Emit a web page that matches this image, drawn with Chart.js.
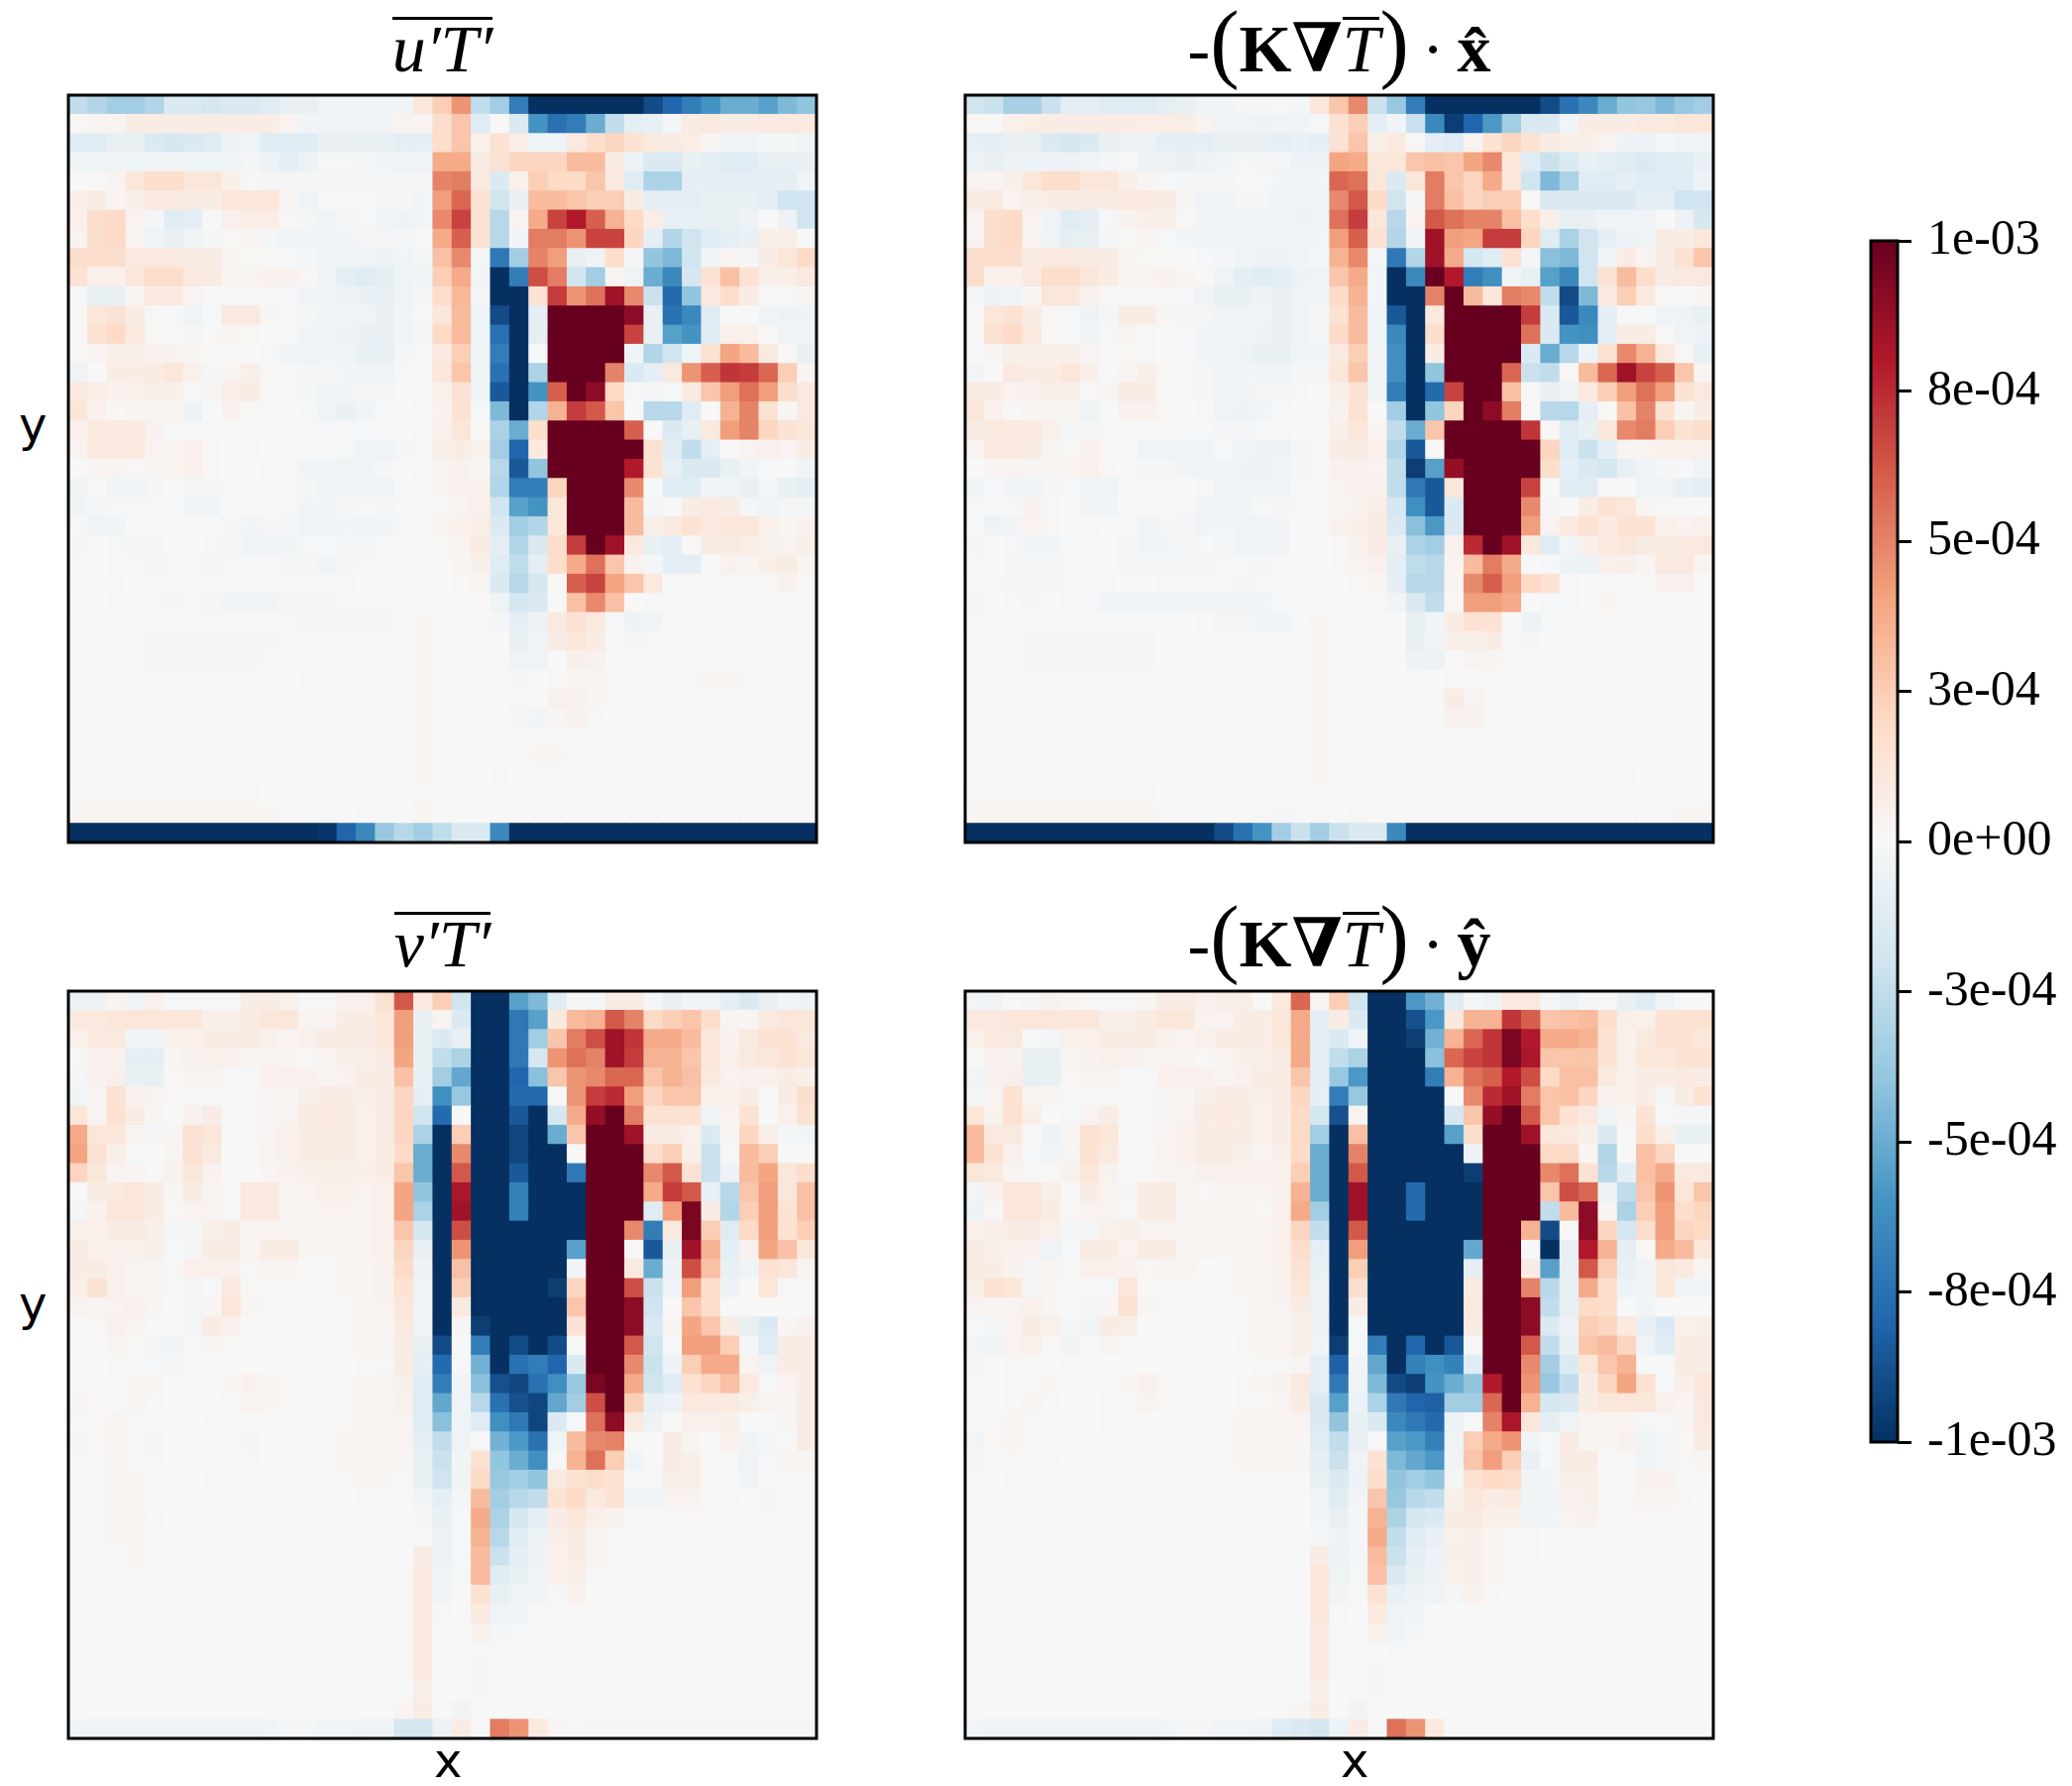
<!DOCTYPE html>
<html>
<head>
<meta charset="utf-8">
<title>Eddy heat flux</title>
<script src="https://cdn.jsdelivr.net/npm/chart.js@4"></script>
<style>
    body { margin: 0; background: #fff; }
    #page { position: relative; width: 2091px; height: 1802px; overflow: hidden; }
    canvas { position: absolute; }
    .title { position: absolute; width: 755px; height: 80px; text-align: center; font: 68px/80px "Liberation Serif", "DejaVu Serif", serif; color: #000; white-space: nowrap; word-spacing: -4px; }
    .title i { font-style: italic; }
    .title .paren { font-size: 88px; font-weight: normal; line-height: 60px; }
    .ov { display: inline-block; border-top: 3px solid #000; line-height: 46px; padding-top: 6px; }
    .axis { position: absolute; font: 48px/50px "DejaVu Sans", sans-serif; color: #000; }
</style>
</head>
<body>
<div id="page">
    <canvas id="panelUT" width="763" height="762" style="left:65px;top:92px"></canvas>
    <canvas id="panelQX" width="763" height="762" style="left:970px;top:92px"></canvas>
    <canvas id="panelVT" width="763" height="762" style="left:65px;top:996px"></canvas>
    <canvas id="panelQY" width="763" height="762" style="left:970px;top:996px"></canvas>
    <canvas id="colorbar" width="221" height="1304" style="left:1870px;top:197px"></canvas>

    <div class="title" style="left:69px;top:9px"><span class="ov"><i>u&prime;T&prime;</i></span></div>
    <div class="title" style="left:974px;top:9px">-<span class="paren">(</span><b>K&nabla;</b><span class="ov"><i>T</i></span><span class="paren">)</span> &middot; <b>x&#770;</b></div>
    <div class="title" style="left:69px;top:912px"><span class="ov"><i>v&prime;T&prime;</i></span></div>
    <div class="title" style="left:974px;top:912px">-<span class="paren">(</span><b>K&nabla;</b><span class="ov"><i>T</i></span><span class="paren">)</span> &middot; <b>y&#770;</b></div>

    <div class="axis" style="left:19px;top:403px">y</div>
    <div class="axis" style="left:19px;top:1290px">y</div>
    <div class="axis" style="left:438px;top:1751px">x</div>
    <div class="axis" style="left:1353px;top:1751px">x</div>
</div>

<script>
// Cell values in units of 1e-5, top row first
const uT = [
    [-25,-30,-35,-35,-30,-15,-15,-18,-15,-15,-12,-8,-8,-5,-5,-3,-3,-3,12,25,45,-25,-35,-70,-100,-100,-100,-100,-100,-100,-90,-80,-70,-60,-50,-50,-55,-45,-40],
    [1,3,3,8,8,8,8,8,8,8,8,3,-3,-5,-5,-3,-3,3,3,18,28,-12,0,-15,-60,-75,-70,-50,-25,-10,-8,-2,8,10,8,8,10,10,10],
    [-12,-12,-8,-8,-15,-18,-15,-12,-6,-5,-12,-12,-12,-8,-8,-8,-8,-10,-10,18,28,5,15,7,-5,-5,10,18,22,15,10,8,7,2,-5,-5,-2,-2,-5],
    [-5,-5,-5,-5,-5,-5,-5,-5,-5,-2,-6,-10,-6,-1,-1,-2,-3,-5,-5,38,38,8,15,22,22,22,32,32,8,-6,-15,-15,-8,-10,-12,-12,-8,-8,-8],
    [0,0,3,12,18,18,12,12,6,1,-2,-2,-2,-2,-2,-2,-2,-2,-2,50,52,10,-15,5,25,20,20,28,10,-12,-32,-32,-10,-10,-10,-10,-10,-10,-5],
    [6,8,3,6,10,10,8,8,12,12,12,3,-4,-1,-1,-1,-2,-2,-3,42,58,15,-20,-8,32,32,28,25,25,8,-10,-10,-10,-8,-8,-8,-10,-20,-20],
    [5,18,20,3,-2,-12,-10,0,5,7,7,1,-2,-5,-2,-1,-3,-6,-3,48,68,15,-28,3,38,68,80,60,35,20,7,-8,-8,-8,-8,-6,0,-6,-20],
    [3,18,20,3,-4,-8,-5,-2,1,3,-2,-4,-3,-3,-3,-2,-2,-2,-1,38,60,15,-28,-3,52,52,45,68,68,22,-10,-30,-20,-12,-10,-7,6,6,0],
    [18,18,18,10,10,10,8,8,3,1,1,-1,-2,-3,-5,-5,-6,-3,-2,30,48,-2,-72,-35,50,42,-8,-5,18,-2,-40,-45,-20,-3,3,-2,8,12,20],
    [15,5,5,12,18,18,10,8,2,2,4,4,1,-4,-10,-12,-10,-5,-3,25,38,-3,-100,-70,65,52,-20,-35,3,-5,-50,-65,-18,15,30,15,6,6,10],
    [-1,-8,-8,2,10,10,3,0,1,1,1,-1,-3,-5,-6,-7,-8,-4,-2,18,33,-2,-100,-100,15,70,45,55,85,48,-22,-78,-40,10,18,8,1,1,2],
    [1,12,15,8,1,-1,-4,-1,10,10,2,-1,-2,-3,-4,-5,-8,-3,-1,12,32,-5,-90,-100,-10,100,100,100,100,90,-8,-75,-65,-12,0,0,-4,-6,-6],
    [1,15,20,10,1,-1,-2,1,3,1,0,-1,-3,-4,-6,-7,-8,-3,-2,20,32,-5,-75,-100,-10,100,100,100,100,68,-8,-55,-60,-12,5,5,1,-4,-4],
    [1,3,6,6,5,4,2,0,0,0,-1,-3,-4,-3,-5,-8,-8,-2,-1,10,25,-5,-70,-100,-1,100,100,100,100,-5,-30,-20,-5,15,40,32,10,1,-8],
    [-4,0,8,8,8,12,5,-2,2,6,1,-1,-2,-2,-3,-4,-4,-1,-1,12,28,-5,-75,-100,-32,100,100,100,50,-15,-10,10,45,60,72,70,58,25,2],
    [10,7,4,5,6,6,0,2,7,8,1,0,-2,-5,-3,-2,-2,-1,1,5,15,-5,-85,-100,-60,60,100,90,20,-1,-2,-1,10,28,42,55,42,18,10],
    [13,5,1,2,2,2,-6,0,4,1,-1,0,-1,-5,-7,-3,-1,0,1,4,15,-1,-45,-100,-30,35,70,62,28,0,-28,-28,-12,0,35,50,15,2,10],
    [5,10,10,10,4,-1,-1,1,1,0,0,-1,-1,-1,-1,-1,-1,0,1,5,12,1,-32,-50,18,100,100,100,100,60,0,-15,-8,10,42,50,22,15,12],
    [3,10,10,10,3,3,5,1,0,-1,0,-1,0,0,-1,-4,-5,-2,1,6,8,4,-35,-80,10,100,100,100,100,100,15,-12,-25,-10,0,3,5,3,8],
    [0,3,3,1,2,3,5,1,0,0,-1,-1,-3,-3,-4,-4,-2,0,1,3,5,2,-28,-85,-40,100,100,100,100,80,15,-8,-15,-15,-8,-3,-1,0,-4],
    [-5,0,-3,-3,-2,0,-2,-2,0,1,1,0,-2,-5,-4,-5,-5,-1,1,3,4,5,-30,-70,-70,22,100,100,100,48,0,-12,-12,-3,-5,-8,-2,-8,-10],
    [-3,-2,-1,-1,-1,-1,-3,-3,0,0,0,-1,-3,-3,-2,-1,-2,-1,1,1,3,5,-20,-55,-60,12,100,100,100,32,-2,0,8,10,8,-2,-4,-2,-2],
    [-1,-5,-3,0,0,0,-1,0,-2,-3,-2,-2,-3,-4,-3,-4,-3,-1,1,3,5,7,-15,-35,-30,12,100,100,100,32,6,10,15,10,12,12,5,2,4],
    [2,0,-1,-2,-2,0,0,-1,-2,-4,-5,-3,-1,-1,-2,-2,-1,0,0,1,3,8,-10,-30,-15,18,70,100,85,10,-8,-10,0,8,8,7,4,3,6],
    [1,0,-1,-1,-2,-1,-1,-2,-1,-1,-1,-2,-2,-3,-2,-1,-1,0,0,0,2,6,-12,-25,-10,18,38,55,28,4,-2,-10,-10,0,4,2,6,8,2],
    [0,-1,-1,0,-1,-1,-1,-1,-1,0,0,0,0,-1,-1,0,0,0,0,0,1,2,-15,-28,-18,1,60,68,40,28,10,0,1,1,1,1,1,4,1],
    [1,0,-1,-1,-1,-2,-1,-2,-3,-3,-3,-2,-2,-2,-1,-1,-1,0,0,0,0,1,-5,-18,-15,0,30,48,30,0,-1,0,0,0,0,0,0,0,0],
    [0,0,0,0,0,0,-1,-1,-1,-1,-1,-1,-2,-2,-2,-2,-2,0,2,0,0,0,-2,-10,-6,10,15,10,-1,-6,-3,0,0,0,0,0,0,0,0],
    [0,0,0,0,-2,-2,-2,-2,-2,-2,-2,-1,-1,-1,-1,-1,-1,0,2,0,0,0,0,-8,-4,8,12,8,-1,-2,-1,0,0,0,0,0,0,0,0],
    [0,0,0,0,-2,-2,-2,-2,-2,-2,-1,-1,-1,-1,-1,-1,0,0,2,0,0,0,0,-5,-5,0,6,4,0,-1,0,0,0,0,0,0,0,0,0],
    [0,0,0,0,0,0,0,0,0,0,0,0,-1,-1,-1,-1,-1,0,2,0,0,0,0,-2,0,1,2,2,0,1,1,1,1,2,2,1,0,0,0],
    [0,0,0,0,0,0,0,0,0,0,0,0,0,0,-1,-1,0,0,2,0,0,0,0,-1,0,5,5,2,0,0,0,0,0,0,0,0,0,0,0],
    [0,0,0,0,0,0,0,0,0,0,0,0,0,0,0,0,0,0,2,0,0,0,0,-2,-3,2,4,1,0,0,0,0,0,0,0,0,0,0,0],
    [0,0,0,0,0,0,0,0,0,0,0,0,0,0,0,0,0,0,2,0,0,0,0,0,0,0,0,0,0,0,0,0,0,0,0,0,0,0,0],
    [0,0,0,0,0,0,0,0,0,0,0,0,0,0,0,0,0,0,2,0,0,0,0,0,2,2,0,0,0,0,0,0,0,0,0,0,0,0,0],
    [0,0,0,0,0,0,0,0,0,0,0,0,0,0,0,0,0,0,2,0,0,0,-1,0,0,0,0,0,0,0,0,0,0,0,0,0,0,0,0],
    [1,1,1,1,1,1,1,1,1,1,0,0,0,0,0,0,0,0,1,0,0,0,0,0,0,0,0,0,0,0,0,1,1,1,1,1,0,0,0],
    [2,2,2,2,2,2,2,2,2,2,2,0,0,0,0,-1,-1,0,2,0,0,0,0,0,0,0,0,0,0,0,0,0,0,0,0,0,0,0,0],
    [-100,-100,-100,-100,-100,-100,-100,-100,-100,-100,-100,-100,-100,-98,-80,-65,-38,-28,-35,-25,-15,-15,-65,-100,-100,-100,-100,-100,-100,-100,-100,-100,-100,-100,-100,-100,-100,-100,-100]
];

const qx = [
    [-20,-22,-33,-33,-22,-10,-10,-12,-12,-12,-10,-8,-4,-4,-2,-2,-1,-2,12,28,48,-22,-38,-70,-100,-100,-100,-100,-100,-100,-90,-75,-65,-50,-40,-38,-45,-38,-35],
    [1,1,5,7,8,8,8,8,8,7,7,7,3,-5,-5,-6,-5,-3,-1,15,25,-10,-3,-22,-65,-95,-80,-58,-35,-15,-15,-3,8,8,8,10,10,12,12],
    [-10,-10,-8,-8,-15,-18,-15,-8,-6,-6,-10,-10,-10,-8,-8,-8,-10,-8,-10,15,28,6,10,1,-10,-12,3,15,22,15,8,6,6,3,-6,-6,-2,-3,-5],
    [-6,-8,-6,-6,-6,-6,-4,-2,-1,-6,-6,-8,-6,-3,-1,-2,-2,-6,-6,40,38,12,12,28,30,28,40,48,12,-12,-22,-15,-8,-10,-12,-15,-12,-12,-8],
    [3,3,6,12,18,18,12,12,6,2,-1,-2,-2,-2,-1,-1,-3,-4,-3,58,55,12,-15,12,52,28,22,38,12,-20,-45,-32,-12,-12,-10,-12,-12,-12,-6],
    [8,10,3,6,8,8,8,8,10,10,8,2,-3,-5,-2,-2,-4,-5,-5,48,62,20,-20,-2,52,30,22,25,25,1,-15,-15,-15,-15,-15,-10,-10,-20,-20],
    [3,18,20,3,-4,-12,-10,-1,4,6,6,1,-3,-3,-5,-3,-3,-6,-4,55,70,12,-28,3,62,55,50,50,30,18,6,-8,-8,-5,-5,-4,0,-6,-18],
    [3,18,20,3,-5,-10,-8,-2,1,3,-1,-3,-3,-3,-5,-4,-4,-3,-3,42,60,15,-30,-3,85,42,40,70,70,22,-12,-32,-20,-10,-6,-5,8,8,12],
    [18,18,18,8,10,10,8,8,3,1,1,0,-1,-2,-5,-6,-6,-3,-2,35,48,-2,-72,-30,85,38,-18,-12,15,-2,-42,-45,-20,-3,8,3,8,15,28],
    [18,5,5,10,18,18,12,8,3,3,4,2,1,-5,-10,-12,-10,-6,-4,28,38,-3,-100,-65,100,80,-70,-62,-3,-8,-55,-65,-20,15,32,18,8,10,10],
    [-2,-6,-3,2,12,12,4,1,1,1,1,-1,-4,-8,-8,-6,-8,-4,-3,20,35,-3,-100,-100,50,100,32,12,52,48,-25,-90,-45,10,25,10,1,0,2],
    [1,12,15,8,1,-1,-6,-2,8,8,2,-2,-2,-4,-5,-5,-8,-4,-2,15,32,-5,-85,-100,10,100,100,100,100,70,-15,-85,-65,-10,0,0,-4,-6,-8],
    [1,15,20,10,1,-1,-3,-1,3,1,0,-1,-3,-4,-5,-6,-7,-4,-2,20,32,-5,-65,-100,18,100,100,100,100,55,-15,-60,-62,-10,8,8,1,-4,-6],
    [-1,2,6,6,6,6,3,0,1,1,0,-1,-3,-3,-6,-8,-8,-3,-3,10,25,-4,-62,-100,8,100,100,100,100,-15,-50,-28,-6,15,48,35,10,1,-8],
    [-3,0,10,8,8,12,6,-1,2,6,1,-1,-2,-3,-3,-3,-4,-2,-2,12,28,-4,-62,-100,-40,100,100,100,58,-22,-25,1,32,58,85,68,60,28,3],
    [10,8,3,4,6,6,1,2,8,8,1,0,-2,-3,-3,-2,-2,-1,0,6,15,-4,-70,-100,-78,68,100,100,30,0,-8,-4,10,25,42,55,42,15,10],
    [12,5,1,2,2,2,-5,0,4,4,1,0,-1,-5,-6,-3,-1,0,0,4,15,0,-35,-100,-40,22,100,90,52,1,-28,-28,-10,1,30,50,15,2,8],
    [8,10,10,10,5,-2,-2,1,1,0,0,-1,-1,-2,-2,-1,-1,0,1,6,12,2,-25,-50,28,100,100,100,100,72,1,-12,-8,12,48,52,25,15,18],
    [3,10,10,8,2,1,4,1,-1,-4,-4,-4,-3,-1,-5,-6,-6,-2,1,8,8,5,-30,-85,-1,100,100,100,100,100,22,-12,-22,-10,2,3,5,5,5],
    [0,3,3,2,2,3,5,1,0,-2,-2,-3,-3,-3,-6,-6,-4,-2,1,4,5,3,-25,-95,-55,88,100,100,100,100,18,-10,-15,-18,-8,-5,-2,-1,-5],
    [-5,-1,-3,-3,-2,-1,-4,-5,-1,-1,1,0,-1,-4,-5,-5,-5,-1,1,3,4,5,-25,-72,-85,12,100,100,100,68,0,-12,-12,0,0,-4,-4,-8,-10],
    [-1,-1,-1,4,-1,0,-3,-3,0,0,0,-1,-3,-4,-3,-1,-2,-1,1,2,4,7,-18,-62,-85,-15,100,100,100,48,-2,0,8,15,12,2,1,0,0],
    [-1,-6,-3,3,1,0,-1,0,-1,-3,-2,-2,-3,-3,-4,-5,-3,0,1,4,6,8,-15,-42,-58,-15,100,100,100,42,3,10,15,10,15,15,5,3,5],
    [2,0,-1,-3,-3,-1,-1,-1,-2,-3,-3,-2,-1,-2,-5,-5,-3,0,0,1,4,8,-8,-32,-35,4,75,100,85,10,-12,-3,6,10,12,8,8,10,10],
    [1,0,-2,-2,-2,-1,-1,-1,-2,-2,-2,-2,-2,-1,-1,-2,-1,0,0,1,3,5,-10,-25,-28,3,32,52,38,0,-1,-6,-6,5,6,2,10,10,3],
    [0,-1,-2,-2,-2,-1,-1,-1,0,0,-1,-1,-1,-1,-2,-1,0,0,0,0,1,2,-10,-28,-28,2,48,60,42,20,15,1,0,0,0,0,4,5,0],
    [2,0,-1,-2,0,-1,-1,-3,-3,-3,-3,-3,-3,-3,-3,-3,-1,0,0,0,0,1,-3,-15,-25,1,42,42,38,0,-1,-1,0,2,0,0,0,0,0],
    [1,0,0,0,0,0,0,0,0,0,0,0,-1,-2,-2,-3,-3,-1,2,0,0,0,0,-8,-3,8,15,15,0,-6,-1,0,0,0,0,0,0,0,0],
    [0,0,0,-2,-2,-2,-2,-2,-2,-2,0,0,0,0,0,0,0,0,2,0,0,0,0,-8,-4,6,6,8,-1,-2,0,0,0,0,0,0,0,0,0],
    [0,0,0,-2,-2,-2,-2,-2,-2,-2,0,0,0,0,0,0,0,0,2,0,0,0,0,-6,-6,0,3,2,-1,0,0,0,0,0,0,0,0,0,0],
    [0,0,0,0,0,0,0,0,0,0,0,0,0,0,0,-1,-1,0,2,0,0,0,0,-1,0,1,0,0,0,0,0,0,0,0,0,0,0,0,0],
    [0,0,0,0,0,0,0,0,0,0,0,0,0,0,0,-1,0,0,2,0,0,0,0,0,0,8,3,0,0,0,0,0,0,0,0,0,0,0,0],
    [0,0,0,0,0,0,0,0,0,0,0,0,0,0,0,0,0,0,2,0,0,0,0,0,0,4,4,0,0,0,0,0,0,0,0,0,0,0,0],
    [0,0,0,0,0,0,0,0,0,0,0,0,0,0,0,0,0,0,2,0,0,0,0,0,0,0,0,0,0,0,0,0,0,0,0,0,0,0,0],
    [0,0,0,0,0,0,0,0,0,0,0,0,0,0,0,0,0,0,2,0,0,0,0,1,1,1,1,0,0,0,0,0,0,0,0,0,0,0,0],
    [0,0,0,0,0,0,0,0,0,0,0,0,0,0,0,0,0,0,2,0,0,0,0,1,1,1,1,1,1,0,0,0,1,1,1,0,0,0,0],
    [1,1,1,1,1,1,1,1,1,1,0,0,0,0,0,0,0,0,1,0,0,0,0,1,1,1,1,1,1,0,0,1,1,1,1,1,0,0,0],
    [2,2,2,2,2,2,2,2,2,2,1,0,0,0,0,-1,-2,-1,1,0,1,0,0,1,1,1,1,1,1,1,1,1,1,1,1,1,1,2,2],
    [-100,-100,-100,-100,-100,-100,-100,-100,-100,-100,-100,-100,-100,-90,-75,-60,-35,-22,-35,-22,-15,-15,-65,-100,-100,-100,-100,-100,-100,-100,-100,-100,-100,-100,-100,-100,-100,-100,-100]
];

const vT = [
    [-6,-6,3,-3,5,-1,-1,-1,-1,8,8,4,-1,-1,5,5,15,62,10,25,-20,-100,-100,-55,-45,-12,-2,-2,8,8,-2,-8,-3,-3,-10,-15,-8,-3,-6],
    [10,10,12,12,12,12,12,6,6,8,12,12,3,3,8,8,12,42,-8,3,-15,-100,-100,-72,-55,10,32,35,62,50,20,25,28,18,2,2,10,12,12],
    [5,10,10,-3,-3,5,5,8,8,8,5,3,5,8,8,8,12,42,-8,-15,-8,-100,-100,-72,-35,28,52,65,85,72,38,38,32,12,4,10,15,15,10],
    [1,4,4,-10,-10,2,4,5,4,3,3,2,1,3,6,6,8,40,-8,-25,-32,-100,-100,-72,-18,45,55,50,85,70,35,35,28,12,5,10,12,15,12],
    [-2,4,6,-8,-8,1,3,3,-1,-1,5,5,4,2,4,8,8,30,-8,-35,-52,-100,-100,-80,-42,28,45,48,58,58,28,35,30,10,3,5,5,8,6],
    [-3,3,15,4,3,1,1,1,-1,-1,2,2,6,8,8,6,8,22,-10,-62,-38,-100,-100,-78,-78,0,45,70,75,42,22,28,28,5,5,8,0,8,18],
    [12,3,15,8,2,0,4,8,-1,-1,2,3,8,10,8,5,8,22,-20,-78,0,-100,-100,-85,-100,-18,38,88,100,52,15,15,15,-4,3,15,0,5,15],
    [38,12,12,3,-2,2,15,12,-1,-1,3,5,8,8,8,5,8,22,-32,-100,25,-100,-100,-92,-100,-50,28,100,100,85,8,8,5,-15,2,22,6,-2,-3],
    [40,15,6,-1,0,2,15,10,0,0,3,5,8,8,8,5,8,20,-50,-100,48,-100,-100,-92,-100,-100,0,100,100,100,18,25,6,-22,-1,32,25,0,0],
    [22,12,3,2,1,4,12,4,0,0,2,4,6,6,6,6,8,28,-50,-100,62,-100,-100,-85,-100,-100,-72,100,100,100,48,62,15,-22,-6,32,40,12,18],
    [0,8,10,12,8,2,8,3,-1,10,10,3,3,5,5,3,5,40,-40,-100,82,-100,-100,-68,-100,-100,-100,100,100,100,38,70,62,-8,-28,28,42,12,30],
    [-2,4,12,12,8,1,3,3,-1,10,10,3,3,3,3,3,5,40,-32,-100,85,-100,-100,-68,-100,-100,-100,100,100,100,-12,42,95,8,-30,25,42,15,30],
    [5,5,8,8,6,-2,-2,6,8,2,3,2,2,3,3,3,5,28,-18,-100,65,-100,-100,-100,-100,-100,-100,100,100,48,-70,10,95,25,-12,20,42,15,25],
    [8,5,5,5,6,-1,-2,8,8,2,8,8,2,2,2,3,5,22,-8,-100,45,-100,-100,-100,-100,-100,-55,100,100,0,-85,-8,85,35,-10,4,40,30,12],
    [8,8,5,3,2,1,5,5,5,1,3,3,0,0,2,2,5,20,-6,-100,30,-100,-100,-100,-100,-100,-3,100,100,10,-50,-6,65,30,-8,-4,15,12,3],
    [6,15,5,2,2,-1,-2,-1,10,1,1,1,1,1,2,2,4,15,-5,-100,25,-100,-100,-100,-100,-95,22,100,100,65,-22,-4,42,18,-6,0,12,-1,-1],
    [3,3,3,5,2,0,-2,2,12,2,1,1,1,1,1,2,3,12,-5,-100,10,-100,-100,-100,-100,-100,28,100,100,90,-20,0,28,18,0,0,0,0,0],
    [0,1,4,3,1,-1,-2,8,5,0,0,0,0,1,1,3,3,10,-5,-100,2,-95,-100,-100,-100,-100,15,100,100,90,-15,2,40,28,8,-8,-15,2,4],
    [0,0,3,1,-2,-3,0,2,1,0,0,0,0,0,1,2,2,8,-8,-90,0,-70,-100,-90,-100,-90,0,100,100,62,-20,-1,42,42,25,-2,-12,8,8],
    [-1,0,1,1,-1,-2,-1,0,0,0,0,0,0,0,0,1,1,8,-10,-78,-1,-48,-100,-75,-70,-80,-15,100,100,48,-22,-6,25,38,38,3,-4,8,8],
    [1,0,0,2,2,0,0,0,2,4,2,1,0,0,1,2,3,6,-12,-70,-3,-42,-88,-92,-75,-62,-38,95,100,38,-20,-12,15,22,30,10,-1,3,8],
    [2,1,0,2,1,0,0,0,1,3,2,1,0,0,1,2,3,5,-12,-52,-5,-28,-75,-88,-92,-52,-35,65,100,25,-8,-6,10,10,10,6,3,2,8],
    [1,1,3,1,0,0,0,1,1,0,0,0,0,1,1,2,2,3,-12,-42,-5,-12,-62,-72,-92,-15,-1,55,90,10,-6,0,5,5,6,0,0,2,8],
    [-2,1,2,1,-2,0,0,0,0,-2,0,0,0,0,2,3,3,3,-10,-25,-5,0,-48,-58,-75,-5,32,48,50,0,0,8,2,0,5,-5,-2,0,8],
    [-1,1,2,1,-1,0,0,0,0,-1,0,0,0,0,2,3,3,2,-8,-22,-3,15,-40,-50,-62,-1,35,55,25,-3,0,8,6,0,1,-4,-1,2,2],
    [0,0,2,2,0,0,0,1,1,0,0,0,0,0,1,2,2,0,-8,-20,-3,20,-38,-35,-40,10,15,18,15,-1,-1,6,6,0,0,-4,0,0,0],
    [0,0,2,2,0,0,0,0,0,0,0,0,0,0,0,1,1,0,-3,-10,-2,32,-35,-28,-25,15,20,10,15,-3,-3,3,3,0,1,0,2,0,0],
    [0,0,2,2,1,0,0,0,0,0,0,0,0,0,0,0,0,0,-2,-8,-1,38,-32,-18,-10,8,12,6,4,-1,-1,1,1,1,1,1,1,0,1],
    [0,0,2,2,0,0,0,0,0,0,0,0,0,0,0,0,0,0,-1,-6,-1,35,-28,-12,-6,6,8,2,-1,0,0,0,0,1,0,0,1,0,0],
    [0,0,0,2,0,0,0,0,0,0,0,0,0,0,0,0,0,0,8,-6,-1,32,-22,-10,-6,5,8,2,0,0,0,0,0,0,0,0,0,0,0],
    [0,0,0,0,0,0,0,0,0,0,0,0,0,0,0,0,0,0,10,-5,-1,32,-12,-8,-5,5,6,1,-1,0,0,0,0,0,0,0,0,0,0],
    [0,0,0,0,0,0,0,0,0,0,0,0,0,0,0,0,0,0,10,-3,0,15,-8,-5,-3,-1,4,0,0,0,0,0,0,0,0,0,0,0,0],
    [0,0,0,0,0,0,0,0,0,0,0,0,0,0,0,0,0,0,10,-1,0,10,-4,-3,-1,0,0,0,0,0,0,0,0,0,0,0,0,0,0],
    [0,0,0,0,0,0,0,0,0,0,0,0,0,0,0,0,0,0,10,0,0,4,-2,-1,0,0,0,0,0,0,0,0,0,0,0,0,0,0,0],
    [0,0,0,0,0,0,0,0,0,0,0,0,0,0,0,0,0,0,10,0,0,-1,-1,-1,0,0,0,0,0,0,0,0,0,0,0,0,0,0,0],
    [0,0,0,0,0,0,0,0,0,0,0,0,0,0,0,0,0,0,10,0,0,-2,0,0,0,0,0,0,0,0,0,0,0,0,0,0,0,0,0],
    [0,0,0,0,0,0,0,0,0,0,0,0,0,0,0,0,0,0,6,0,0,-2,0,0,0,0,0,0,0,0,0,0,0,0,0,0,0,0,0],
    [0,0,0,0,0,0,0,0,0,0,0,0,0,0,0,0,0,2,8,0,-3,0,0,0,0,0,0,0,0,0,0,0,0,0,0,0,0,0,0],
    [-3,-4,-4,-4,-4,-4,-4,-4,-4,-5,-3,-2,-2,-3,-3,-4,-5,-18,-18,-6,8,0,52,45,10,2,0,-2,-2,-2,-2,-2,-2,-2,-2,-2,-2,-2,-2]
];

const qy = [
    [-3,-4,1,-2,4,2,1,-1,-1,2,8,8,5,6,6,0,10,58,3,25,-20,-100,-100,-58,-48,-12,-2,-5,10,10,-2,-6,-2,-1,-8,-12,-5,0,0],
    [10,10,12,12,12,12,12,6,6,8,12,12,3,3,8,8,12,38,-10,8,-15,-100,-100,-88,-58,10,35,35,72,60,28,30,32,18,6,5,15,15,15],
    [5,10,10,-1,-2,5,5,8,8,8,5,3,5,8,8,8,12,38,-10,-15,-5,-100,-100,-95,-48,35,58,72,95,80,38,38,35,15,5,10,15,15,12],
    [1,4,4,-8,-8,2,4,5,4,3,3,2,1,3,6,6,8,38,-10,-25,-32,-100,-100,-100,-42,58,68,72,95,82,28,28,28,15,5,12,12,15,15],
    [-3,4,6,-8,-8,1,3,3,-1,-1,5,5,4,2,4,8,8,28,-10,-38,-58,-100,-100,-100,-70,35,55,60,80,65,20,30,30,10,5,8,8,10,8],
    [-2,3,15,3,2,1,1,1,-1,-1,2,2,6,8,8,6,8,22,-10,-70,-38,-100,-100,-100,-100,0,48,75,85,52,28,30,22,4,5,8,-2,8,15],
    [12,4,15,6,0,-1,3,8,-1,-1,2,3,8,10,8,5,8,20,-18,-88,3,-100,-100,-100,-100,-18,28,88,100,62,28,15,10,-4,2,15,-1,-2,-2],
    [32,10,10,0,-6,2,15,12,-1,-1,3,5,8,8,8,5,8,20,-35,-100,30,-100,-100,-100,-100,-55,18,100,100,85,12,10,6,-15,1,18,6,-8,-8],
    [32,15,5,-1,-3,2,15,10,0,0,3,5,8,8,6,3,6,20,-50,-100,50,-100,-100,-100,-100,-100,-6,100,100,100,20,20,2,-30,0,30,22,0,0],
    [12,10,3,1,1,4,12,4,-1,1,2,3,5,5,5,5,5,25,-50,-100,62,-100,-100,-100,-100,-100,-95,100,100,100,48,55,15,-28,-10,30,38,10,10],
    [-3,4,12,12,6,0,8,3,-2,8,8,3,1,3,3,2,5,35,-50,-100,85,-100,-100,-78,-100,-100,-100,100,100,100,28,65,58,-6,-25,28,45,12,28],
    [-6,1,12,12,8,1,3,3,-1,8,8,2,3,3,3,1,5,38,-35,-100,85,-100,-100,-78,-100,-100,-100,100,100,100,-25,32,90,2,-32,25,42,18,22],
    [5,6,8,8,5,-2,-2,5,6,3,3,2,2,3,2,3,5,22,-25,-100,62,-100,-100,-100,-100,-100,-100,100,100,35,-90,0,90,22,-18,18,42,22,20],
    [8,6,5,4,-5,-1,8,8,3,8,8,2,3,2,2,3,5,18,-10,-100,42,-100,-100,-100,-100,-100,-52,100,100,0,-100,-8,80,35,-10,1,38,32,12],
    [8,8,4,-2,2,1,5,5,4,1,3,3,0,0,2,2,5,15,-8,-100,25,-100,-100,-100,-100,-100,-10,100,100,8,-55,-8,62,25,-8,-4,12,10,2],
    [6,15,12,-2,2,0,-1,-1,12,1,1,1,1,1,2,2,4,12,-6,-100,18,-100,-100,-100,-100,-100,8,100,100,50,-28,-8,38,18,-6,-4,12,-3,-3],
    [3,3,3,5,2,0,-2,2,15,2,1,1,1,1,1,2,3,8,-6,-100,8,-100,-100,-100,-100,-100,10,100,100,90,-25,-8,20,18,0,-3,0,0,0],
    [-1,-2,3,8,5,-2,-3,8,6,0,0,0,0,1,1,2,3,6,-6,-100,-1,-100,-100,-100,-100,-100,8,100,100,90,-15,-6,25,22,10,-8,-15,5,6],
    [-3,-3,3,5,1,-4,0,3,1,0,0,0,0,0,1,3,3,6,-5,-95,-1,-70,-100,-80,-100,-85,-1,100,100,62,-25,-8,28,32,22,-5,-12,8,8],
    [-2,0,1,1,0,-1,0,0,0,0,0,0,0,0,0,1,1,3,-10,-82,-3,-52,-100,-68,-62,-68,-12,100,100,48,-35,-15,12,28,35,0,-1,8,8],
    [0,0,1,1,2,0,0,0,2,5,1,0,0,0,1,2,4,10,-10,-72,-5,-45,-90,-95,-60,-50,-40,80,100,45,-38,-25,8,22,40,15,-1,6,12],
    [1,0,1,2,1,0,0,1,1,3,1,0,0,0,1,1,3,8,-15,-55,-6,-32,-72,-80,-82,-35,-35,58,100,35,-18,-15,8,12,12,12,5,2,10],
    [1,1,2,1,0,0,0,1,1,0,0,0,0,1,2,2,2,3,-15,-40,-8,-15,-65,-72,-78,-6,0,50,82,12,-10,-4,3,3,3,-1,1,2,10],
    [-3,1,2,1,0,0,0,0,0,0,0,0,0,1,2,2,2,2,-12,-25,-8,0,-55,-58,-68,-5,25,38,45,-3,-1,8,2,2,4,-5,-2,1,8],
    [-2,-1,1,1,1,0,0,0,0,0,0,0,0,0,2,2,2,2,-10,-22,-5,15,-45,-52,-58,-3,28,42,25,-8,-1,8,8,0,1,-4,-2,1,2],
    [0,0,1,1,0,0,0,0,0,0,0,0,0,0,0,0,0,0,-8,-15,-6,18,-40,-35,-40,-2,15,20,18,-3,-3,6,6,0,1,4,4,0,1],
    [0,0,0,0,0,0,0,0,0,0,0,0,0,0,0,0,0,0,-5,-12,-3,28,-38,-28,-25,6,12,8,10,-3,-3,4,6,1,1,3,3,1,0],
    [0,0,0,0,0,0,0,0,0,0,0,0,0,0,0,0,0,0,-3,-8,-2,35,-32,-18,-15,8,10,6,6,-3,-3,3,4,1,1,1,1,0,0],
    [0,0,0,0,0,0,0,0,0,0,0,0,0,0,0,0,0,0,-2,-6,-2,38,-25,-12,-8,5,6,2,0,-1,0,0,0,0,0,0,0,0,0],
    [0,0,0,0,0,0,0,0,0,0,0,0,0,0,0,0,0,0,8,-6,-2,32,-22,-10,-6,6,6,2,0,1,0,0,0,0,0,0,0,0,0],
    [0,0,0,0,0,0,0,0,0,0,0,0,0,0,0,0,0,0,12,-5,-1,30,-15,-8,-6,4,6,2,0,0,0,0,0,0,0,0,0,0,0],
    [0,0,0,0,0,0,0,0,0,0,0,0,0,0,0,0,0,0,12,-3,-1,15,-8,-6,-4,-2,4,1,0,0,0,0,0,0,0,0,0,0,0],
    [0,0,0,0,0,0,0,0,0,0,0,0,0,0,0,0,0,0,12,-1,0,10,-5,-3,0,0,0,0,0,0,0,0,0,0,0,0,0,0,0],
    [0,0,0,0,0,0,0,0,0,0,0,0,0,0,0,0,0,0,10,0,0,5,-3,-2,0,0,0,0,0,0,0,0,0,0,0,0,0,0,0],
    [0,0,0,0,0,0,0,0,0,0,0,0,0,0,0,0,0,0,10,0,0,0,-1,-1,0,0,0,0,0,0,0,0,0,0,0,0,0,0,0],
    [0,0,0,0,0,0,0,0,0,0,0,0,0,0,0,0,0,0,10,0,0,-2,0,0,0,0,0,0,0,0,0,0,0,0,0,0,0,0,0],
    [0,0,0,0,0,0,0,0,0,0,0,0,0,0,0,0,0,0,6,0,0,-2,0,0,0,0,0,0,0,0,0,0,0,0,0,0,0,0,0],
    [0,0,0,0,0,0,0,0,0,0,0,0,0,0,0,0,0,2,8,0,-3,0,0,0,0,0,0,0,0,0,0,0,0,0,0,0,0,0,0],
    [-3,-4,-4,-4,-4,-4,-4,-4,-4,-5,-3,-2,-2,-3,-3,-4,-12,-15,-18,-6,8,0,55,45,10,0,-1,-1,-1,-1,-1,-1,-1,-1,-1,-1,-1,-1,-1]
];

const cbarTicks = [-1e-3, -7.5e-4, -5e-4, -2.5e-4, 0, 2.5e-4, 5e-4, 7.5e-4, 1e-3];
const cbarLabels = ['-1e-03', '-8e-04', '-5e-04', '-3e-04', '0e+00', '3e-04', '5e-04', '8e-04', '1e-03'];

// RdBu_r colormap anchors
const rdbu = [[5,48,97],[33,102,172],[67,147,195],[146,197,222],[209,229,240],[247,247,247],
              [253,219,199],[244,165,130],[214,96,77],[178,24,43],[103,0,31]];

function cellColor(v) {
    const t = Math.max(0, Math.min(rdbu.length - 1, (v + 100) / 20));
    const i = Math.min(rdbu.length - 2, Math.floor(t));
    const f = t - i;
    const c = rdbu[i].map((a, k) => Math.round(a + (rdbu[i + 1][k] - a) * f));
    return `rgb(${c[0]},${c[1]},${c[2]})`;
}

// Black frame around a plot
const framePlugin = {
    id: 'frame',
    afterDraw(chart) {
        const { ctx, chartArea: a } = chart;
        ctx.save();
        ctx.strokeStyle = '#000';
        ctx.lineWidth = 3;
        ctx.strokeRect(a.left, a.top, a.right - a.left, a.bottom - a.top);
        ctx.restore();
    }
};

function drawPanel(id, rows) {
    const cells = [];
    rows.forEach((row, r) => {
        if (row.length !== 39) throw new Error(id + ' row ' + r + ' has ' + row.length);
        row.forEach((v, c) => cells.push({ x: c, y: r, v: v }));
    });
    new Chart(document.getElementById(id), {
        type: 'scatter',
        data: {
            datasets: [{
                data: cells,
                pointStyle: 'rect',
                pointBorderWidth: 0,
                // a rect point has side radius * sqrt(2); slight overlap hides seams
                pointRadius: ctx => {
                    const x = ctx.chart.scales.x;
                    return (x.getPixelForValue(1) - x.getPixelForValue(0) + 0.8) / Math.SQRT2;
                },
                pointBackgroundColor: ctx => cellColor(ctx.raw.v)
            }]
        },
        options: {
            responsive: false,
            animation: false,
            events: [],
            layout: { padding: { left: 4, right: 4, top: 4, bottom: 4 } },
            plugins: { legend: { display: false }, tooltip: { enabled: false } },
            scales: {
                x: { type: 'linear', display: false, min: -0.5, max: 38.5 },
                y: { type: 'linear', display: false, min: -0.5, max: 38.5, reverse: true }
            }
        },
        plugins: [framePlugin]
    });
}

drawPanel('panelUT', uT);
drawPanel('panelQX', qx);
drawPanel('panelVT', vT);
drawPanel('panelQY', qy);

// Colorbar
new Chart(document.getElementById('colorbar'), {
    type: 'bar',
    data: {
        labels: ['flux'],
        datasets: [{
            data: [[cbarTicks[0], cbarTicks[cbarTicks.length - 1]]],
            barPercentage: 1,
            categoryPercentage: 1,
            backgroundColor: ctx => {
                const { chartArea, scales } = ctx.chart;
                if (!chartArea) return '#f7f7f7';
                const g = ctx.chart.ctx.createLinearGradient(0, scales.y.getPixelForValue(-1e-3), 0, scales.y.getPixelForValue(1e-3));
                rdbu.forEach((c, i) => g.addColorStop(i / (rdbu.length - 1), `rgb(${c[0]},${c[1]},${c[2]})`));
                return g;
            }
        }]
    },
    options: {
        responsive: false,
        animation: false,
        events: [],
        layout: { padding: { left: 18, top: 0, bottom: 0, right: 0 } },
        plugins: { legend: { display: false }, tooltip: { enabled: false } },
        scales: {
            x: { display: false },
            y: {
                position: 'right',
                min: -1e-3,
                max: 1e-3,
                afterBuildTicks: s => { s.ticks = cbarTicks.map(v => ({ value: v })); },
                afterFit: s => { s.width = 176; },
                border: { display: false },
                grid: { drawOnChartArea: false, drawTicks: true, tickLength: 14, tickColor: '#000', tickWidth: 3 },
                ticks: {
                    autoSkip: false,
                    padding: 16,
                    color: '#000',
                    font: { family: '"Liberation Serif", serif', size: 50 },
                    callback: (v, i) => cbarLabels[i]
                }
            }
        }
    },
    plugins: [framePlugin]
});
</script>
</body>
</html>
